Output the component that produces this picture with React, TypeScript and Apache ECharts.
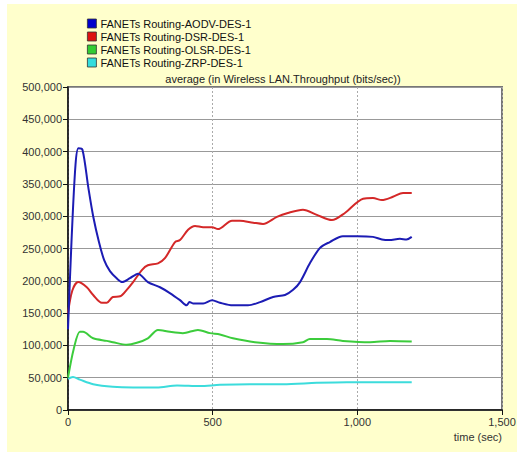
import React, { useEffect, useRef } from "react";
import * as echarts from "echarts";

const seriesNames = [
  "FANETs Routing-AODV-DES-1",
  "FANETs Routing-DSR-DES-1",
  "FANETs Routing-OLSR-DES-1",
  "FANETs Routing-ZRP-DES-1",
];
const seriesColors = ["#1c1cb4", "#d42828", "#3ccc3c", "#3cdcdc"];
const legendColors = ["#0000cc", "#dd1111", "#33cc33", "#33dddd"];

const yTicks = [0, 100000, 200000, 300000, 400000, 500000];
const xTicks = [0, 500, 1000, 1500];

const aodv: [number, number][] = [
  [0, 125000], [12, 260000], [26, 380000], [36, 405000], [50, 403000],
  [70, 345000], [87, 300000], [107, 260000], [125, 232000], [145, 215000],
  [170, 203000], [187, 198000], [214, 204000], [242, 211000], [276, 198000],
  [318, 190000], [352, 181000], [387, 170000], [410, 162000], [420, 167000],
  [432, 165000], [467, 165000], [498, 170000], [525, 166000], [570, 162000],
  [622, 162000], [664, 167000], [709, 175000], [750, 178000], [778, 186000],
  [802, 198000], [836, 227000], [871, 251000], [905, 260000], [950, 269000],
  [999, 269000], [1054, 268000], [1085, 264000], [1110, 263000], [1147, 265000],
  [1170, 264000], [1188, 268000],
];

const dsr: [number, number][] = [
  [0, 150000], [15, 185000], [35, 198000], [65, 190000], [87, 178000],
  [117, 166000], [134, 166000], [155, 175000], [180, 176000], [203, 186000],
  [225, 198000], [256, 217000], [276, 224000], [311, 227000], [335, 235000],
  [370, 260000], [387, 263000], [415, 279000], [439, 285000], [467, 283000],
  [498, 283000], [518, 280000], [567, 293000], [594, 293000], [640, 290000],
  [674, 288000], [722, 299000], [760, 305000], [812, 310000], [860, 302000],
  [912, 294000], [957, 305000], [1020, 327000], [1054, 328000], [1085, 325000],
  [1123, 330000], [1158, 336000], [1188, 336000],
];

const olsr: [number, number][] = [
  [0, 50000], [20, 95000], [41, 121000], [52, 121000], [87, 111000],
  [134, 107000], [155, 105000], [203, 101000], [238, 104000], [276, 111000],
  [311, 124000], [352, 121000], [397, 119000], [449, 124000], [491, 119000],
  [525, 117000], [570, 111000], [646, 105000], [743, 102000], [812, 105000],
  [836, 110000], [895, 110000], [950, 107000], [1044, 105000], [1113, 107000],
  [1188, 106000],
];

const zrp: [number, number][] = [
  [0, 48000], [17, 51000], [41, 47000], [87, 40000], [155, 36000],
  [225, 35000], [307, 35000], [377, 38000], [456, 37000], [525, 39000],
  [629, 40000], [743, 40000], [860, 42000], [964, 43000], [1080, 43000],
  [1188, 43000],
];

const seriesData = [aodv, dsr, olsr, zrp];

const FONT = "Arial, 'Liberation Sans', sans-serif";

export default function App() {
  const ref = useRef<HTMLDivElement>(null);
  useEffect(() => {
    if (!ref.current) return;
    const chart = echarts.init(ref.current, undefined, { renderer: "svg" });
    chart.setOption({
      animation: false,
      backgroundColor: "#ffffff",
      textStyle: { fontFamily: FONT },
      grid: {
        left: 68,
        right: 22,
        top: 87,
        bottom: 42,
        show: true,
        backgroundColor: "#ffffff",
        borderColor: "#777777",
        borderWidth: 2,
      },
      legend: {
        orient: "vertical",
        left: 82,
        top: 13,
        itemWidth: 9,
        itemHeight: 9,
        itemGap: 2,
        icon: "rect",
        textStyle: { fontSize: 11, color: "#111", fontFamily: FONT, padding: [0, 0, 0, -1] },
        data: seriesNames.map((n, i) => ({
          name: n,
          itemStyle: { color: legendColors[i], borderColor: "#333", borderWidth: 0.8 },
        })),
      },
      xAxis: {
        type: "value",
        min: xTicks[0],
        max: xTicks[xTicks.length - 1],
        interval: 500,
        axisLine: { show: true, lineStyle: { color: "#111", width: 1.5 } },
        axisTick: { show: true, length: 5, lineStyle: { color: "#111" } },
        axisLabel: {
          fontSize: 11,
          color: "#333",
          margin: 6,
          formatter: (v: number) => v.toLocaleString("en-US"),
        },
        splitLine: { show: true, lineStyle: { color: "#aaaaaa", type: [2, 2], width: 1 } },
      },
      yAxis: {
        type: "value",
        min: yTicks[0],
        max: yTicks[yTicks.length - 1],
        interval: 50000,
        axisLine: { show: true, lineStyle: { color: "#111", width: 1.5 } },
        axisTick: { show: true, length: 5, lineStyle: { color: "#111" } },
        axisLabel: {
          fontSize: 11,
          color: "#333",
          margin: 6,
          formatter: (v: number) => v.toLocaleString("en-US"),
        },
        splitLine: { show: true, lineStyle: { color: "#999999", width: 1 } },
      },
      graphic: [
        {
          type: "rect",
          z: -10,
          silent: true,
          shape: { x: 7, y: 4, width: 510, height: 448 },
          style: { fill: "#ffffcc" },
        },
        {
          type: "text",
          x: 283,
          y: 79,
          style: {
            text: "average (in Wireless LAN.Throughput (bits/sec))",
            fontSize: 11,
            fontFamily: FONT,
            fill: "#222",
            align: "center",
            verticalAlign: "middle",
          },
        },
        {
          type: "text",
          x: 502,
          y: 437,
          style: {
            text: "time (sec)",
            fontSize: 11,
            fontFamily: FONT,
            fill: "#333",
            align: "right",
            verticalAlign: "middle",
          },
        },
      ],
      series: seriesNames.map((n, i) => ({
        name: n,
        type: "line",
        data: seriesData[i],
        showSymbol: false,
        smooth: 0.3,
        lineStyle: { color: seriesColors[i], width: 2 },
        itemStyle: { color: legendColors[i] },
        z: 10 - i,
      })),
    });
    return () => chart.dispose();
  }, []);
  return (
    <div
      ref={ref}
      style={{ position: "fixed", left: 0, top: 0, width: 524, height: 452 }}
    />
  );
}
